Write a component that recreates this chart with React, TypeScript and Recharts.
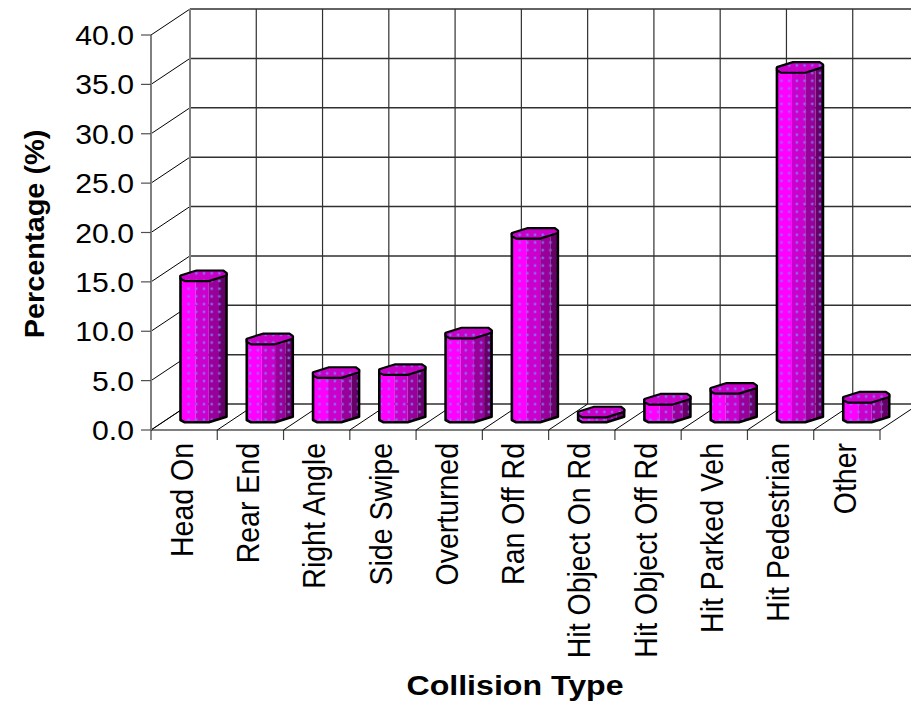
import { BarChart, Bar, XAxis, YAxis, usePlotArea } from "recharts";

const categories = [
  "Head On",
  "Rear End",
  "Right Angle",
  "Side Swipe",
  "Overturned",
  "Ran Off Rd",
  "Hit Object On Rd",
  "Hit Object Off Rd",
  "Hit Parked Veh",
  "Hit Pedestrian",
  "Other",
];
const percentages = [14.3, 7.9, 4.5, 4.8, 8.5, 18.6, 0.5, 1.8, 2.9, 35.4, 2.0];
const yTicks = [0, 5, 10, 15, 20, 25, 30, 35, 40];

const data = categories.map((name, i) => ({ name, value: percentages[i] }));

const FONT = '"Liberation Sans", Arial, sans-serif';
const Y_MAX = 40;
// how far the back wall sits from the front of the box
const DEPTH_X = 39;
const DEPTH_Y = 26;

const Walls = () => {
  const plot = usePlotArea();
  if (!plot) return null;
  const { x, y, width, height } = plot;
  const bottom = y + height;
  const step = width / categories.length;
  const boundaries = categories.map((_, i) => x + step * i).concat(x + width);
  const tickY = (t: number) => bottom - (t / Y_MAX) * height;

  return (
    <g>
      <defs>
        <pattern id="dots" width={7.7} height={7.7} patternUnits="userSpaceOnUse">
          <circle cx={3.8} cy={3.8} r={1.4} fill="#8080ff" fillOpacity={0.8} />
        </pattern>
      </defs>
      {/* back wall */}
      {yTicks.map((t) => (
        <g key={t}>
          <line
            x1={x + DEPTH_X}
            x2={911}
            y1={tickY(t) - DEPTH_Y}
            y2={tickY(t) - DEPTH_Y}
            stroke="#303030"
            strokeWidth={1.5}
          />
          <line
            x1={x}
            x2={x + DEPTH_X}
            y1={tickY(t)}
            y2={tickY(t) - DEPTH_Y}
            stroke="#000"
          />
        </g>
      ))}
      {boundaries.map((bx, i) => (
        <g key={i}>
          <line
            x1={bx + DEPTH_X}
            x2={bx + DEPTH_X}
            y1={y - DEPTH_Y}
            y2={bottom - DEPTH_Y}
            stroke={i === 0 ? "#808080" : "#303030"}
            strokeWidth={i === 0 ? 2 : 1.2}
          />
          {/* floor */}
          <line x1={bx} x2={bx + DEPTH_X} y1={bottom} y2={bottom - DEPTH_Y} stroke="#000" />
          <line x1={bx} x2={bx} y1={bottom} y2={bottom + 10} stroke="#404040" strokeWidth={1.2} />
        </g>
      ))}
      <text
        transform="translate(44,234) rotate(-90) scale(1.07,1)"
        textAnchor="middle"
        fontFamily={FONT}
        fontWeight="bold"
        fontSize={27}
      >
        Percentage (%)
      </text>
      <text
        transform="translate(515,695) scale(1.19,1)"
        textAnchor="middle"
        fontFamily={FONT}
        fontWeight="bold"
        fontSize={27}
      >
        Collision Type
      </text>
    </g>
  );
};

// octagonal prism standing mid-way between the front edge and the back wall
const PrismBar = (props: any) => {
  const { x, y, width, height } = props;
  const cx = x + width / 2 + DEPTH_X / 2;
  const cy = y - DEPTH_Y / 2;
  const h = height;
  const p = (pts: number[][]) =>
    pts.map(([px, py]) => `${cx + px},${cy + py}`).join(" ");

  const faces = [
    {
      fill: "#ff00ff",
      pts: [[-23, -0.3], [-8, -0.3], [-8, 5.3 + h], [-18.7, 5.3 + h], [-23, 3 + h]],
    },
    {
      fill: "#cc00cc",
      pts: [[-8, -0.3], [5.3, -0.3], [5.3, 5.3 + h], [-8, 5.3 + h]],
    },
    {
      fill: "#990099",
      pts: [[5.3, -0.3], [15.5, -0.3], [15.5, 2 + h], [5.3, 5.3 + h]],
    },
    {
      fill: "#660066",
      pts: [[15.5, -3], [23, -3], [23, -0.3 + h], [15.5, 2 + h]],
    },
  ];
  const outline = [
    [-23, -0.3],
    [-23, 3 + h],
    [-18.7, 5.3 + h],
    [5.3, 5.3 + h],
    [23, -0.3 + h],
    [23, -3],
  ];
  const lid = [
    [-23, -0.3],
    [-7, -5.3],
    [19.7, -5.3],
    [23, -3],
    [23, -0.3],
    [5.3, 5.3],
    [-18.7, 5.3],
    [-23, 3],
  ];

  return (
    <g>
      {faces.map((f) => (
        <g key={f.fill}>
          <polygon points={p(f.pts)} fill={f.fill} />
          <polygon points={p(f.pts)} fill="url(#dots)" />
        </g>
      ))}
      <polyline points={p(outline)} fill="none" stroke="#000" strokeWidth={2.6} strokeLinejoin="round" />
      <polygon points={p(lid)} fill="#c800c8" />
      <polygon
        points={p(lid)}
        fill="url(#dots)"
        stroke="#000"
        strokeWidth={2.2}
        strokeLinejoin="round"
      />
    </g>
  );
};

const YTick = ({ x, y, payload }: any) => (
  <text
    transform={`translate(${x - 5},${y + 10}) scale(1.06,1)`}
    textAnchor="end"
    fontFamily={FONT}
    fontSize={28.5}
    fill="#000"
  >
    {Number(payload.value).toFixed(1)}
  </text>
);

const XTick = ({ x, payload }: any) => (
  <text
    transform={`translate(${x + 8.7},443) rotate(-90) scale(0.89,1)`}
    textAnchor="end"
    fontFamily={FONT}
    fontSize={32}
    fill="#000"
  >
    {payload.value}
  </text>
);

const App = () => {
  return (
    <div style={{ position: "absolute", left: 0, top: 0, width: 911, height: 703 }}>
      <BarChart
        width={911}
        height={703}
        data={data}
        barSize={24}
        margin={{ top: 35, right: 31, bottom: 213, left: 91 }}
      >
        <Walls />
        <XAxis
          dataKey="name"
          interval={0}
          height={60}
          tickLine={false}
          axisLine={{ stroke: "#000", strokeWidth: 1.2 }}
          tick={<XTick />}
        />
        <YAxis
          width={60}
          domain={[0, Y_MAX]}
          ticks={yTicks}
          tickSize={10}
          tickLine={{ stroke: "#505050", strokeWidth: 1.2 }}
          axisLine={{ stroke: "#808080", strokeWidth: 2 }}
          tick={<YTick />}
        />
        <Bar dataKey="value" isAnimationActive={false} shape={<PrismBar />} />
      </BarChart>
    </div>
  );
};

export default App;
